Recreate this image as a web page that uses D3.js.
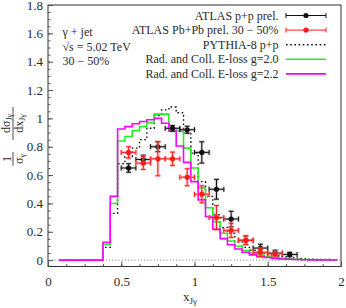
<!DOCTYPE html>
<html>
<head>
<meta charset="utf-8">
<script src="https://cdn.jsdelivr.net/npm/d3@7"></script>
<style>
  body { margin: 0; background: #fff; }
  text { font-family: "Liberation Serif", "DejaVu Serif", serif; fill: #2a2a2a; }
</style>
</head>
<body>
<svg width="346" height="308"></svg>
<script>
// histogram bins (centres, width 0.05)
const binCenters = [0.1, 0.15, 0.2, 0.25, 0.3, 0.35, 0.4, 0.45, 0.5, 0.55, 0.6, 0.65, 0.7, 0.75, 0.8, 0.85,
  0.9, 0.95, 1.0, 1.05, 1.1, 1.15, 1.2, 1.25, 1.3, 1.35, 1.4, 1.45, 1.5, 1.55, 1.6, 1.65, 1.7, 1.75, 1.8,
  1.85, 1.9, 1.95];
const pythia = [0, 0, 0, 0, 0, 0, 0.09, 0.33, 0.68, 0.73, 0.79, 0.85, 0.93, 1.02, 1.06, 1.08,
  1.04, 0.9, 0.755, 0.554, 0.45, 0.32, 0.23, 0.19, 0.13, 0.09, 0.07, 0.055, 0.045, 0.035, 0.025, 0.018, 0.013,
  0.01, 0.007, 0.005, 0.004, 0.003];
const eloss20 = [0, 0, 0, 0, 0, 0, 0.11, 0.4, 0.84, 0.872, 0.914, 0.943, 0.97, 1.03, 1.03, 0.93,
  0.91, 0.79, 0.65, 0.51, 0.37, 0.27, 0.19, 0.135, 0.098, 0.068, 0.049, 0.035, 0.025, 0.018, 0.012, 0.009, 0.006,
  0.004, 0.003, 0.002, 0.002, 0.001];
const eloss22 = [0, 0, 0, 0, 0, 0, 0.125, 0.45, 0.925, 0.942, 0.962, 0.978, 0.99, 1.0, 0.966, 0.91,
  0.805, 0.69, 0.554, 0.425, 0.307, 0.219, 0.152, 0.108, 0.078, 0.056, 0.037, 0.025, 0.018, 0.012, 0.008, 0.006,
  0.004, 0.003, 0.002, 0.002, 0.001, 0.001];

// ATLAS points
const ppX = [0.55, 0.65, 0.75, 0.85, 0.95, 1.05, 1.15, 1.25, 1.35, 1.45, 1.55, 1.65];
const ppY = [0.65, 0.71, 0.8, 0.93, 0.92, 0.76, 0.5, 0.29, 0.14, 0.085, 0.05, 0.04];
const ppErr = [0.03, 0.03, 0.035, 0.02, 0.025, 0.075, 0.07, 0.055, 0.03, 0.027, 0.02, 0.015];
const pbX = [0.55, 0.65, 0.75, 0.85, 0.95, 1.05, 1.15, 1.25, 1.35, 1.45, 1.55];
const pbY = [0.76, 0.685, 0.715, 0.715, 0.585, 0.465, 0.3, 0.21, 0.14, 0.055, 0.045];
const pbErr = [0.04, 0.045, 0.12, 0.047, 0.06, 0.06, 0.085, 0.05, 0.03, 0.03, 0.015];
const halfWidth = 0.05;

const xTicks = [0, 0.5, 1, 1.5, 2];
const xTickLabels = ["0", "0.5", "1", "1.5", "2"];
const yTicks = [0, 0.2, 0.4, 0.6, 0.8, 1, 1.2, 1.4, 1.6, 1.8];
const yTickLabels = ["0", "0.2", "0.4", "0.6", "0.8", "1", "1.2", "1.4", "1.6", "1.8"];
const legendLabels = ["ATLAS p+p prel.", "ATLAS Pb+Pb prel. 30 \u2212 50%", "PYTHIA-8 p+p",
  "Rad. and Coll. E-loss g=2.0", "Rad. and Coll. E-loss g=2.2"];
const infoLines = ["\u03b3 + jet", "\u221as = 5.02 TeV", "30 \u2212 50%"];

const svg = d3.select("svg");
const x = d3.scaleLinear().domain([0, 2]).range([48, 341]);
const y = d3.scaleLinear().domain([-0.045, 1.8]).range([266.5, 5]);

const green = "#22ee22";
const magenta = "#ff00ff";
const red = "#ff1a1a";

// frame
svg.append("rect")
  .attr("x", x(0)).attr("y", y(1.8))
  .attr("width", x(2) - x(0)).attr("height", y(-0.045) - y(1.8))
  .attr("fill", "none").attr("stroke", "#333").attr("stroke-width", 1);

// axes, ticks inside
const styleAxis = (g, size) => {
  g.select(".domain").remove();
  g.selectAll("line").attr("stroke", "#555");
  g.selectAll("text").attr("font-size", size).attr("font-family", "Liberation Serif, serif").attr("fill", "#333");
};
svg.append("g").attr("transform", `translate(${x(0)},0)`)
  .call(d3.axisLeft(y).tickValues(d3.range(0, 1.8001, 0.05)).tickSize(-2.5).tickFormat(""))
  .call(g => styleAxis(g, 13));
svg.append("g").attr("transform", `translate(${x(0)},0)`)
  .call(d3.axisLeft(y).tickValues(yTicks).tickSize(-5).tickPadding(5)
    .tickFormat((d, i) => yTickLabels[i]))
  .call(g => styleAxis(g, 13));
svg.append("g").attr("transform", `translate(0,${y(-0.045)})`)
  .call(d3.axisBottom(x).tickValues(d3.range(0, 2.001, 0.125)).tickSize(-2.5).tickFormat(""))
  .call(g => styleAxis(g, 13));
svg.append("g").attr("transform", `translate(0,${y(-0.045)})`)
  .call(d3.axisBottom(x).tickValues(xTicks).tickSize(-5).tickPadding(10)
    .tickFormat((d, i) => xTickLabels[i]))
  .call(g => styleAxis(g, 13));

// zero line
svg.append("line")
  .attr("x1", x(0)).attr("x2", x(2)).attr("y1", y(0)).attr("y2", y(0))
  .attr("stroke", "#666").attr("stroke-width", 0.8).attr("stroke-dasharray", "1.2,2");

// step histograms
const stepLine = d3.line().x(d => x(d[0])).y(d => y(d[1])).curve(d3.curveStepAfter);
const histPoints = vals => {
  const pts = binCenters.map((c, i) => [c - 0.025, vals[i]]);
  pts.push([binCenters[binCenters.length - 1] + 0.025, vals[vals.length - 1]]);
  return pts;
};
svg.append("path").attr("d", stepLine(histPoints(pythia)))
  .attr("fill", "none").attr("stroke", "#111").attr("stroke-width", 1.4).attr("stroke-dasharray", "1.6,2.6");
svg.append("path").attr("d", stepLine(histPoints(eloss20)))
  .attr("fill", "none").attr("stroke", green).attr("stroke-width", 1.6);
svg.append("path").attr("d", stepLine(histPoints(eloss22)))
  .attr("fill", "none").attr("stroke", magenta).attr("stroke-width", 1.6);

// data points with error bars
function drawPoints(xs, ys, errs, color, halo) {
  const g = svg.append("g");
  const pts = xs.map((d, i) => ({ x: d, y: ys[i], e: errs[i] }));
  const cap = 2.5;
  [[halo, 2.6, 0.55], [color, 1, 1]].forEach(([c, w, o]) => {
    const s = g.append("g").attr("stroke", c).attr("stroke-width", w).attr("opacity", o);
    s.selectAll(".h").data(pts).enter().append("line")
      .attr("x1", d => x(d.x - halfWidth)).attr("x2", d => x(d.x + halfWidth))
      .attr("y1", d => y(d.y)).attr("y2", d => y(d.y));
    s.selectAll(".v").data(pts).enter().append("line")
      .attr("x1", d => x(d.x)).attr("x2", d => x(d.x))
      .attr("y1", d => y(d.y - d.e)).attr("y2", d => y(d.y + d.e));
    [-1, 1].forEach(k => {
      s.selectAll(".cx").data(pts).enter().append("line")
        .attr("x1", d => x(d.x + k * halfWidth)).attr("x2", d => x(d.x + k * halfWidth))
        .attr("y1", d => y(d.y) - cap).attr("y2", d => y(d.y) + cap);
      s.selectAll(".cy").data(pts).enter().append("line")
        .attr("x1", d => x(d.x) - cap).attr("x2", d => x(d.x) + cap)
        .attr("y1", d => y(d.y + k * d.e)).attr("y2", d => y(d.y + k * d.e));
    });
  });
  g.selectAll("circle").data(pts).enter().append("circle")
    .attr("cx", d => x(d.x)).attr("cy", d => y(d.y)).attr("r", 2.6).attr("fill", color);
}
drawPoints(ppX, ppY, ppErr, "#111", "#9a9a9a");
drawPoints(pbX, pbY, pbErr, red, "#ff8a8a");

// legend
const legend = svg.append("g");
const rowY = i => 15.5 + i * 14.6;
legend.selectAll("text").data(legendLabels).enter().append("text")
  .attr("x", 278.5).attr("y", (d, i) => rowY(i) + 4)
  .attr("text-anchor", "end").attr("font-size", 12).text(d => d);
const lx1 = 286, lx2 = 326, lmid = 306;
[["#111", "#111"], ["#ff7a7a", red]].forEach(([lc, pc], i) => {
  const yy = rowY(i);
  legend.append("line").attr("x1", lx1).attr("x2", lx2).attr("y1", yy).attr("y2", yy)
    .attr("stroke", lc).attr("stroke-width", i === 1 ? 1.6 : 1);
  [lx1, lx2].forEach(xx => legend.append("line").attr("x1", xx).attr("x2", xx)
    .attr("y1", yy - 2.5).attr("y2", yy + 2.5).attr("stroke", pc).attr("stroke-width", 1));
  legend.append("circle").attr("cx", lmid).attr("cy", yy).attr("r", 2.6).attr("fill", pc);
});
legend.append("line").attr("x1", lx1).attr("x2", lx2).attr("y1", rowY(2)).attr("y2", rowY(2))
  .attr("stroke", "#111").attr("stroke-width", 1.4).attr("stroke-dasharray", "1.6,2.6");
legend.append("line").attr("x1", lx1).attr("x2", lx2).attr("y1", rowY(3)).attr("y2", rowY(3))
  .attr("stroke", green).attr("stroke-width", 1.6);
legend.append("line").attr("x1", lx1).attr("x2", lx2).attr("y1", rowY(4)).attr("y2", rowY(4))
  .attr("stroke", magenta).attr("stroke-width", 1.6);

// info text
svg.selectAll(".info").data(infoLines).enter().append("text")
  .attr("x", 62.5).attr("y", (d, i) => 36 + i * 14.5)
  .attr("font-size", 12).text(d => d);

// x label
const xl = svg.append("text").attr("x", 183).attr("y", 301).attr("font-size", 13);
xl.append("tspan").text("x");
xl.append("tspan").attr("font-size", 9).attr("dy", 3).text("J\u03b3");

// y label (rotated fraction)
const yl = svg.append("g").attr("transform", "translate(13,140) rotate(-90)").attr("font-size", 12);
yl.append("text").attr("x", -19).attr("y", -2.5).attr("text-anchor", "middle").text("1");
yl.append("line").attr("x1", -26).attr("x2", -12).attr("y1", 0).attr("y2", 0).attr("stroke", "#222").attr("stroke-width", 0.8);
const den1 = yl.append("text").attr("x", -19).attr("y", 9.5).attr("text-anchor", "middle");
den1.append("tspan").text("\u03c3");
den1.append("tspan").attr("font-size", 8).attr("dy", 2).text("\u03b3");
yl.append("line").attr("x1", 0).attr("x2", 33).attr("y1", 0).attr("y2", 0).attr("stroke", "#222").attr("stroke-width", 0.8);
const num2 = yl.append("text").attr("x", 16.5).attr("y", -3).attr("text-anchor", "middle");
num2.append("tspan").text("d\u03c3");
num2.append("tspan").attr("font-size", 8).attr("dy", 2).text("J\u03b3");
const den2 = yl.append("text").attr("x", 16.5).attr("y", 9.5).attr("text-anchor", "middle");
den2.append("tspan").text("dx");
den2.append("tspan").attr("font-size", 8).attr("dy", 2).text("J\u03b3");
</script>
</body>
</html>
